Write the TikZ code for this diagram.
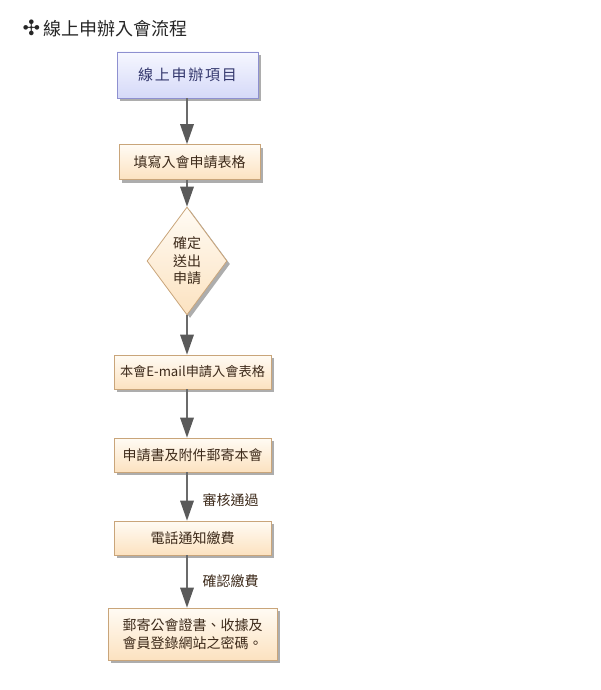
\documentclass[tikz,border=0pt]{standalone}
\usepackage{fontspec}
\setmainfont{Noto Sans CJK TC}
\newfontfamily\dingfont{DejaVu Sans}
\newfontfamily\spacedfont[LetterSpace=12]{Noto Sans CJK TC}
\usetikzlibrary{shapes.geometric,shadows,arrows.meta}
\definecolor{boxline}{HTML}{C9A57A}
\definecolor{boxtop}{HTML}{FFFBF4}
\definecolor{boxbot}{HTML}{FCE2C0}
\definecolor{boxtext}{HTML}{3D2A1A}
\definecolor{startline}{HTML}{8E90D0}
\definecolor{starttop}{HTML}{F6F7FF}
\definecolor{startbot}{HTML}{D5D9F8}
\definecolor{starttext}{HTML}{34386E}
\definecolor{flowgray}{HTML}{6B6B6B}
\definecolor{tipgray}{HTML}{5A5A5A}

\begin{document}
\begin{tikzpicture}[
            x=1pt, y=-1pt,
            stepbox/.style={
              draw=boxline, line width=0.8pt,
              top color=boxtop, bottom color=boxbot,
              text=boxtext, inner sep=0pt, align=center,
              font=\fontsize{14}{17.6}\selectfont,
              drop shadow={shadow xshift=3pt, shadow yshift=-3pt,
                fill=black!32, opacity=1}
            },
            startbox/.style={
              stepbox, draw=startline,
              top color=starttop, bottom color=startbot,
              text=starttext, font=\fontsize{15}{18}\spacedfont
            },
            decide/.style={
              stepbox, diamond, aspect=0.74
            },
            flow/.style={
              draw=flowgray, line width=2.6pt,
              -{Triangle[length=20pt, width=14pt, line width=0pt, fill=tipgray]}
            },
            lbl/.style={
              font=\fontsize{14}{17}\selectfont, text=boxtext
            }
        ]
\useasboundingbox (0,0) rectangle (600,690);

\node[anchor=west, font=\fontsize{18}{20}\selectfont, text=black!85] (title) at (19,28)
    {{\dingfont\fontsize{21}{21}\selectfont ✣}\,線上申辦入會流程};

\node[startbox, minimum width=141pt, minimum height=46pt] (n1) at (187.5,75) {線上申辦項目};
\node[stepbox, minimum width=141pt, minimum height=35pt] (n2) at (189.5,162) {填寫入會申請表格};
\node[decide, minimum width=80pt, minimum height=108pt] (d) at (187,261) {確定\\送出\\申請};
\node[stepbox, minimum width=157pt, minimum height=34pt,
      font=\fontsize{13.2}{16}\selectfont] (n4) at (192.5,372) {本會E-mail申請入會表格};
\node[stepbox, minimum width=157pt, minimum height=34pt] (n5) at (192.5,455) {申請書及附件郵寄本會};
\node[stepbox, minimum width=157pt, minimum height=34pt] (n6) at (192.5,538) {電話通知繳費};
\node[stepbox, minimum width=169pt, minimum height=52pt] (n7) at (192.5,634) {郵寄公會證書、收據及\\會員登錄網站之密碼。};

\draw[flow] (d |- n1.south) -- (d |- n2.north);
\draw[flow] (d |- n2.south) -- (d.north);
\draw[flow] (d.south) -- (d |- n4.north);
\draw[flow] (d |- n4.south) -- (d |- n5.north);
\draw[flow] (d |- n5.south) -- (d |- n6.north)
    node[lbl, pos=0.58, anchor=west, xshift=11pt] (l1) {審核通過};
\draw[flow] (d |- n6.south) -- (d |- n7.north)
    node[lbl, pos=0.5, anchor=west, xshift=11pt] (l2) {確認繳費};

\end{tikzpicture}
\end{document}
